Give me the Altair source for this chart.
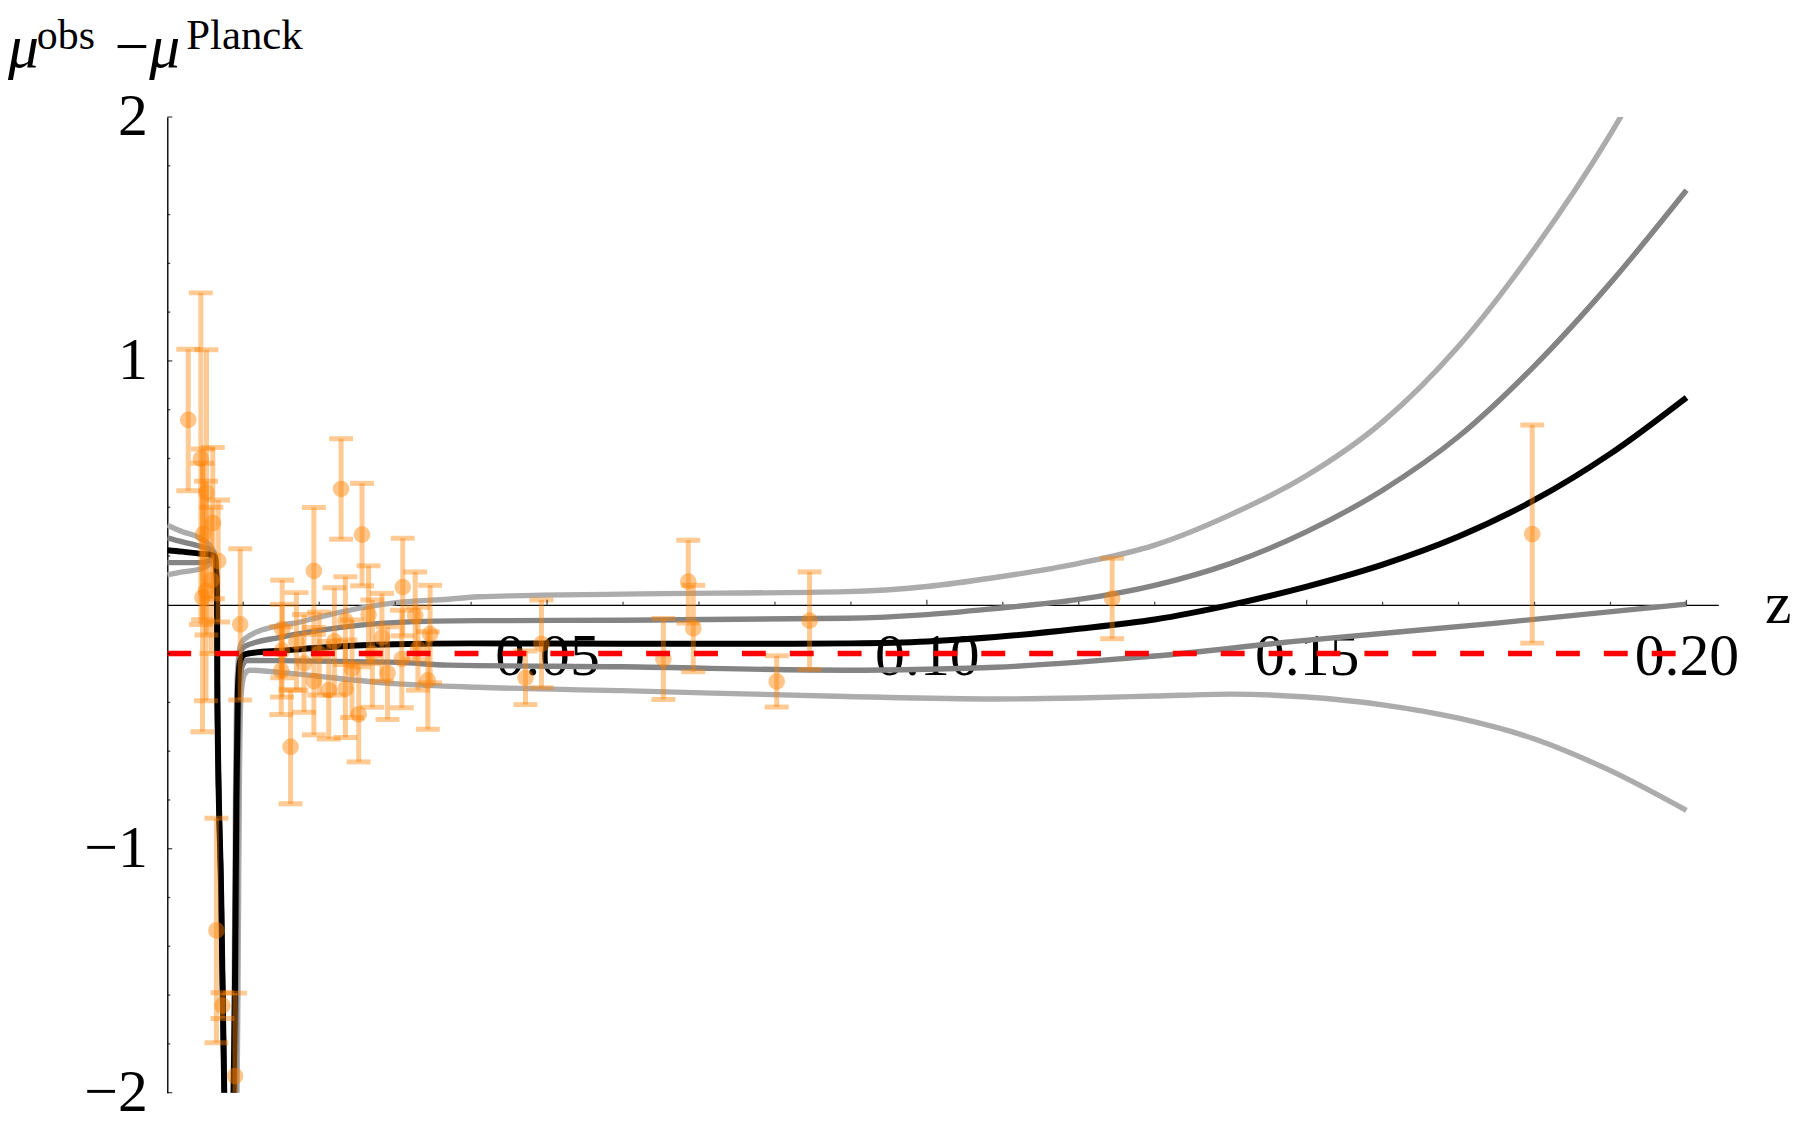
import altair as alt
import pandas as pd

# ---------------- data ----------------
pts_z = [0.00276, 0.00442, 0.00516, 0.00600, 0.00470, 0.00670, 0.00510, 0.00463, 0.00580,
         0.00647, 0.00726, 0.00892, 0.00960, 0.01513, 0.01510, 0.01500, 0.01623, 0.01930,
         0.01930, 0.02126, 0.02288, 0.02345, 0.02345, 0.02432, 0.02520, 0.02564, 0.02650,
         0.02826, 0.03100, 0.03088, 0.03264, 0.03460, 0.03430, 0.02000, 0.02200, 0.01800,
         0.02900, 0.03300, 0.02700, 0.01700, 0.04716, 0.04926, 0.06531, 0.06859, 0.06925,
         0.08023, 0.08456, 0.1244, 0.1797]
pts_mu = [0.758, 0.599, 0.461, 0.335, 0.289, 0.180, 0.057, 0.030, 0.100,
          -1.335, -1.643, -1.932, -0.080, -0.099, -0.188, -0.270, -0.582, 0.139,
          -0.313, -0.350, 0.475, -0.065, -0.344, -0.262, -0.449, 0.288, -0.040,
          -0.133, 0.073, -0.222, -0.045, -0.120, -0.310, -0.200, -0.150, -0.240,
          -0.280, -0.180, -0.200, -0.150, -0.299, -0.160, -0.222, 0.095, -0.097,
          -0.314, -0.065, 0.026, 0.290]
pts_err = [0.29, 0.68, 0.585, 0.31, 0.35, 0.25, 0.45, 0.55, 0.30,
           0.46, 0.053, 0.34, 0.31, 0.20, 0.19, 0.18, 0.234, 0.26,
           0.22, 0.20, 0.206, 0.18, 0.20, 0.20, 0.195, 0.21, 0.20,
           0.18, 0.20, 0.20, 0.18, 0.20, 0.20, 0.17, 0.22, 0.20,
           0.19, 0.17, 0.22, 0.20, 0.11, 0.18, 0.166, 0.17, 0.177,
           0.105, 0.20, 0.165, 0.447]

# curves: left branch (before the pole) share z values
left_z = [0, 0.002, 0.0042, 0.0058, 0.0063, 0.00655, 0.0066, 0.0071, 0.0075, 0.0077]
black_left_mu = [0.224, 0.218, 0.210, 0.205, 0.195, 0.05, -0.40, -1.20, -2.00, -2.30]
lup_left_mu = [0.327, 0.300, 0.275, 0.235, 0.200, 0.05, -0.40, -1.20, -2.00, -2.30]
mup_left_mu = [0.275, 0.258, 0.241, 0.222, 0.200, 0.05, -0.40, -1.20, -2.00, -2.30]
mlo_left_mu = [0.173, 0.173, 0.173, 0.185, 0.195, 0.05, -0.40, -1.20, -2.00, -2.30]
llo_left_mu = [0.123, 0.135, 0.146, 0.172, 0.190, 0.05, -0.40, -1.20, -2.00, -2.30]

black_right_z = [0.0086, 0.0089, 0.0091, 0.0093, 0.0096, 0.0101, 0.011, 0.015, 0.02, 0.03,
                 0.04, 0.06, 0.08, 0.09, 0.10, 0.109, 0.12, 0.13, 0.14, 0.15,
                 0.16, 0.17, 0.18, 0.19, 0.20]
black_right_mu = [-2.3, -1.6, -0.8, -0.35, -0.23, -0.205, -0.198, -0.188, -0.176, -0.162,
                  -0.158, -0.160, -0.160, -0.158, -0.150, -0.132, -0.098, -0.060, 0.0, 0.075,
                  0.165, 0.28, 0.43, 0.62, 0.85]

lup_right_z = [0.0086, 0.0088, 0.009, 0.0092, 0.0096, 0.0102, 0.0147, 0.0173, 0.0200, 0.0304,
               0.0370, 0.0409, 0.0599, 0.0894, 0.1000, 0.1090, 0.1200, 0.1300, 0.1400, 0.1500,
               0.1600, 0.1700, 0.1800, 0.1900, 0.1950]
lup_right_mu = [-2.3, -1.6, -0.7, -0.3, -0.17, -0.14, -0.085, -0.072, -0.05, 0.010,
                0.023, 0.033, 0.044, 0.054, 0.075, 0.112, 0.17, 0.245, 0.37, 0.53,
                0.75, 1.06, 1.46, 1.93, 2.20]

mup_right_z = [0.0087, 0.0089, 0.0091, 0.0093, 0.0097, 0.0102, 0.0147, 0.0200, 0.0304, 0.0409,
               0.0599, 0.0894, 0.1000, 0.1090, 0.1200, 0.1300, 0.1400, 0.1500, 0.1600, 0.1700,
               0.1800, 0.1900, 0.2000]
mup_right_mu = [-2.3, -1.6, -0.7, -0.32, -0.19, -0.17, -0.134, -0.105, -0.072, -0.065,
                -0.063, -0.055, -0.040, -0.015, 0.022, 0.080, 0.17, 0.30, 0.47, 0.69,
                0.98, 1.32, 1.70]

mlo_right_z = [0.0089, 0.0091, 0.0093, 0.0095, 0.0099, 0.0105, 0.0147, 0.0304, 0.0370, 0.0599,
               0.0894, 0.1000, 0.1090, 0.1200, 0.1300, 0.1484, 0.1750, 0.2000]
mlo_right_mu = [-2.3, -1.6, -0.7, -0.36, -0.25, -0.228, -0.229, -0.236, -0.247, -0.254,
                -0.268, -0.264, -0.256, -0.235, -0.210, -0.15, -0.075, 0.003]

llo_right_z = [0.0091, 0.0093, 0.0095, 0.0097, 0.0101, 0.0108, 0.0147, 0.0304, 0.0409, 0.0599,
               0.0894, 0.1090, 0.1200, 0.1300, 0.1400, 0.1500, 0.1600, 0.1700, 0.1800, 0.1900,
               0.2000]
llo_right_mu = [-2.3, -1.6, -0.7, -0.38, -0.29, -0.268, -0.277, -0.324, -0.338, -0.352,
                -0.376, -0.386, -0.382, -0.374, -0.366, -0.378, -0.41, -0.465, -0.55, -0.68,
                -0.843]

ref_z = [0.0, 0.2]
ref_mu = [-0.2, -0.2]

xt_major = [0.05, 0.10, 0.15, 0.20]
xt_minor = [0.01, 0.02, 0.03, 0.04, 0.06, 0.07, 0.08, 0.09, 0.11, 0.12, 0.13, 0.14,
            0.16, 0.17, 0.18, 0.19]
yt_major = [-2, -1, 1, 2]
yt_minor = [-1.8, -1.6, -1.4, -1.2, -0.8, -0.6, -0.4, -0.2, 0.2, 0.4, 0.6, 0.8,
            1.2, 1.4, 1.6, 1.8]

# ---------------- chart ----------------
FONT = "Liberation Serif"
ORANGE = "#ff8000"

xscale = alt.Scale(domain=[0, 0.2042], nice=False, zero=False)
yscale = alt.Scale(domain=[-2, 2], nice=False, zero=False)
xaxis = alt.Axis(values=xt_major, format=".2f", offset=-490, ticks=False, tickSize=0,
                 labelPadding=70, labelBaseline="alphabetic", labelFont=FONT,
                 labelFontSize=60, labelColor="black", domainColor="black",
                 domainWidth=1.4, grid=False, title=None, labelFlush=False,
                 labelOverlap=False)
yaxis = alt.Axis(values=yt_major, format="d", ticks=False, tickSize=0, labelPadding=20,
                 labelFont=FONT, labelFontSize=60, labelColor="black",
                 domainColor="black", domainWidth=1.4, grid=False, title=None,
                 labelFlush=False, labelOverlap=False)


def X(field):
    return alt.X(field, type="quantitative", scale=xscale, axis=xaxis)


def Y(field):
    return alt.Y(field, type="quantitative", scale=yscale, axis=yaxis)


def curve_df(pairs):
    rows = []
    for seg, zs, ms in pairs:
        for z, m in zip(zs, ms):
            rows.append({"seg": seg, "z": z, "mu": m})
    return pd.DataFrame(rows)


light_df = curve_df([("lul", left_z, lup_left_mu), ("lur", lup_right_z, lup_right_mu),
                     ("lll", left_z, llo_left_mu), ("llr", llo_right_z, llo_right_mu)])
medium_df = curve_df([("mul", left_z, mup_left_mu), ("mur", mup_right_z, mup_right_mu),
                      ("mll", left_z, mlo_left_mu), ("mlr", mlo_right_z, mlo_right_mu)])
black_df = curve_df([("bl", left_z, black_left_mu), ("br", black_right_z, black_right_mu)])


def curve_layer(df, color, width):
    return alt.Chart(df).mark_line(color=color, strokeWidth=width, interpolate="monotone",
                                   clip=True).encode(
        x=X("z"), y=Y("mu"), detail="seg:N", order="z:Q")


light_layer = curve_layer(light_df, "#acacac", 5.4)
medium_layer = curve_layer(medium_df, "#848484", 5.4)
black_layer = curve_layer(black_df, "#000000", 6)

pts = pd.DataFrame({"z": pts_z, "mu": pts_mu, "err": pts_err})
base_pts = alt.Chart(pts).transform_calculate(lo="datum.mu - datum.err",
                                              hi="datum.mu + datum.err")
bars = base_pts.mark_rule(color=ORANGE, opacity=0.42, strokeWidth=5, clip=True).encode(
    x=X("z"), y=Y("lo"), y2="hi:Q")
caps_lo = base_pts.mark_tick(color=ORANGE, opacity=0.42, orient="horizontal", size=24,
                             thickness=5, clip=True).encode(x=X("z"), y=Y("lo"))
caps_hi = base_pts.mark_tick(color=ORANGE, opacity=0.42, orient="horizontal", size=24,
                             thickness=5, clip=True).encode(x=X("z"), y=Y("hi"))
dots = base_pts.mark_circle(color=ORANGE, opacity=0.45, size=280, clip=True).encode(
    x=X("z"), y=Y("mu"))

ref = alt.Chart(pd.DataFrame({"z": ref_z, "mu": ref_mu})).mark_line(
    color="#ff0000", strokeWidth=5.5, strokeDash=[24, 24.1]).encode(x=X("z"), y=Y("mu"))


def xticks(vals, length):
    df = pd.DataFrame({"z": vals, "mu": [0] * len(vals)})
    return alt.Chart(df).mark_tick(color="black", orient="vertical", size=length,
                                   thickness=1.3, yOffset=-length / 2).encode(
        x=X("z"), y=Y("mu"))


def yticks(vals, length):
    df = pd.DataFrame({"z": [0] * len(vals), "mu": vals})
    return alt.Chart(df).mark_tick(color="black", orient="horizontal", size=length,
                                   thickness=1.3, xOffset=length / 2).encode(
        x=X("z"), y=Y("mu"))


def label(txt, x, y, size, italic=False):
    return alt.Chart(pd.DataFrame({"t": [txt]})).mark_text(
        align="left", baseline="alphabetic", font=FONT, fontSize=size,
        fontStyle="italic" if italic else "normal", color="black").encode(
        text="t:N", x=alt.value(x), y=alt.value(y))


title_layers = [
    label("μ", -160, -50, 62, italic=True),
    label("obs", -131, -68, 42),
    label("−", -53, -50, 62),
    label("μ", -18, -50, 62, italic=True),
    label("Planck", 19, -68, 43),
    label("z", 1605, 508, 60),
]

chart = alt.layer(
    light_layer, medium_layer, black_layer,
    bars, caps_lo, caps_hi, dots, ref,
    xticks(xt_major, 5), xticks(xt_minor, 3), yticks(yt_major, 5), yticks(yt_minor, 3),
    *title_layers,
).properties(
    width=1558, height=980,
    padding={"left": 160, "top": 107, "right": 74, "bottom": 29},
    autosize=alt.AutoSizeParams(type="none"),
    background="white",
).configure_view(stroke=None)

chart.save("out.html", embed_options={"renderer": "svg", "actions": False})
